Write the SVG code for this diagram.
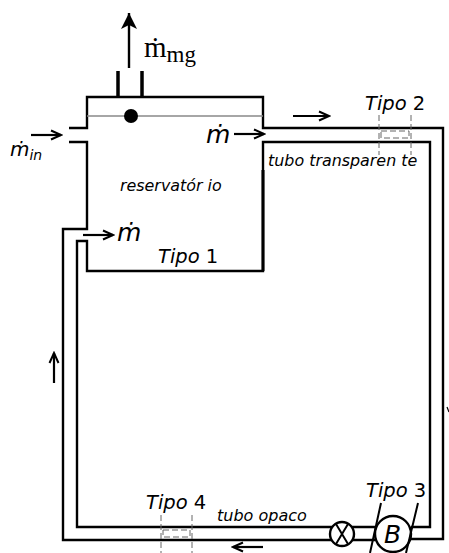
<svg xmlns="http://www.w3.org/2000/svg" width="449" height="553" viewBox="0 0 449 553">
<defs>
<marker id="ah" markerWidth="14" markerHeight="12" refX="12" refY="6" orient="auto" markerUnits="userSpaceOnUse"><path d="M2 1.5L12 6L2 10.5" fill="none" stroke="#000" stroke-width="2"/></marker>
<marker id="bh" markerWidth="18" markerHeight="16" refX="16" refY="8" orient="auto" markerUnits="userSpaceOnUse"><path d="M0 0L16 8L0 16L4 8Z" fill="#000"/></marker>
</defs>
<style>
.p{fill:none;stroke:#000;stroke-width:2.4}
.a{fill:none;stroke:#000;stroke-width:2.2;marker-end:url(#ah)}
.d{fill:none;stroke:#666;stroke-width:1;stroke-dasharray:6 3}
.t{font-family:"DejaVu Sans",Verdana,sans-serif;font-style:italic;fill:#000}
.n{font-style:normal}
</style>
<rect width="449" height="553" fill="#fff"/>
<g id="connectors">
<path class="p" d="M69 128H87V97H263V128H443V539H411"/>
<path class="p" d="M69 142H87V229H63V540H375"/>
<path class="p" d="M375 527H77V241H87V271H263V142H430V527H411"/>
<path d="M263 170V271" stroke="#000" stroke-width="3" fill="none"/>
<path d="M87 116H263" stroke="#888" stroke-width="1.5" fill="none"/>
<path d="M118 71V98M142 71V98" stroke="#000" stroke-width="3.5" fill="none"/>
<path d="M129 68V13" stroke="#000" stroke-width="2.4" fill="none" marker-end="url(#bh)"/>
<path class="a" d="M31 135H61"/>
<path class="a" d="M234 134H264"/>
<path class="a" d="M83 235H113"/>
<path class="a" d="M293 116H329"/>
<path class="a" d="M54 383V353"/>
<path class="a" d="M263 547H233"/>
<path d="M447 407L449 412" stroke="#000" stroke-width="1.2" fill="none"/>
</g>
<g id="bubble"><circle cx="131" cy="116" r="7" fill="#000"/></g>
<g id="tipo2">
<path class="d" d="M379 115V155M411 115V155"/>
<rect x="381" y="131" width="28" height="7" class="d" stroke-dasharray="4 2"/>
<text class="t" x="365" y="110" font-size="19.5">Tipo <tspan class="n">2</tspan></text>
</g>
<g id="tipo4">
<path class="d" d="M161 515V553M192 515V553"/>
<rect x="163" y="530" width="27" height="7" class="d" stroke-dasharray="4 2"/>
<text class="t" x="146" y="509" font-size="19.5">Tipo <tspan class="n">4</tspan></text>
</g>
<g id="valvula">
<circle cx="342" cy="534" r="12" fill="#fff" stroke="#000" stroke-width="2.4"/>
<path d="M336 524L348 544M348 524L336 544" stroke="#000" stroke-width="2"/>
</g>
<g id="bomba">
<circle cx="393" cy="534" r="18" fill="#fff" stroke="#000" stroke-width="2.4"/>
<path d="M381 503L370 553M418 503L406 553" stroke="#000" stroke-width="2" fill="none"/>
<text class="t" x="384" y="543" font-size="25">B</text>
<text class="t" x="366" y="497" font-size="19.5">Tipo <tspan class="n">3</tspan></text>
</g>
<g id="labels">
<text x="144" y="57" font-family="Liberation Serif,serif" font-size="29">ṁ<tspan font-size="23" dy="5">mg</tspan></text>
<text class="t" x="10" y="156" font-size="20">ṁ<tspan font-size="14" dy="4">in</tspan></text>
<text class="t" x="206" y="143" font-size="25">ṁ</text>
<text class="t" x="117" y="241" font-size="25">ṁ</text>
<text class="t" x="120" y="191" font-size="15.9">reservatór io</text>
<text class="t" x="268" y="166" font-size="15.9">tubo transparen te</text>
<text class="t" x="158" y="263" font-size="19.5">Tipo <tspan class="n">1</tspan></text>
<text class="t" x="217" y="521" font-size="16">tubo opaco</text>
</g>
</svg>
